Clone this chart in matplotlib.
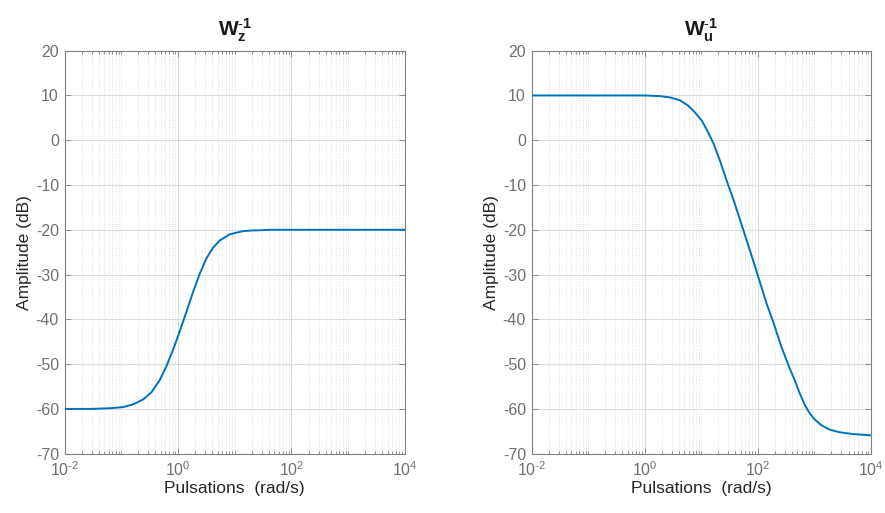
import matplotlib
matplotlib.use("Agg")
import matplotlib.pyplot as plt
import math
from matplotlib.ticker import FixedLocator, LogLocator, NullFormatter, FuncFormatter

plt.rcParams['font.family'] = ['Liberation Sans', 'DejaVu Sans']
plt.rcParams['mathtext.fontset'] = 'custom'
plt.rcParams['mathtext.rm'] = 'Liberation Sans'
plt.rcParams['mathtext.it'] = 'Liberation Sans'
plt.rcParams['mathtext.bf'] = 'Liberation Sans:bold'
plt.rcParams['axes.unicode_minus'] = False

# ---- data ----
wz_freq = [0.01, 0.03, 0.0624, 0.107, 0.161, 0.242, 0.339, 0.475, 0.624, 0.817,
           1.07, 1.41, 1.84, 2.42, 3.16, 4.14, 5.43, 8.17, 14.0, 20.0, 27.6, 41.4, 10000]
wz_db = [-60.0, -60.0, -59.85, -59.6, -59.0, -57.9, -56.3, -53.6, -50.5, -46.8,
         -42.7, -38.3, -33.9, -29.8, -26.4, -24.0, -22.4, -21.0, -20.3, -20.15, -20.1, -20.0, -20.0]

wu_freq = [0.01, 1.0, 1.88, 2.83, 4.23, 5.92, 7.75, 10.2, 13.3, 16.3, 21.3, 27.9,
           36.4, 46.5, 72.4, 100, 142, 186, 260, 364, 446, 545, 668, 817, 1000,
           1310, 1830, 2750, 4710, 10000]
wu_db = [10.0, 10.0, 9.85, 9.55, 8.9, 7.7, 6.2, 4.4, 1.7, -0.6, -4.5, -8.9,
         -13.0, -17.1, -24.6, -30.2, -36.4, -40.5, -46.1, -50.9, -53.5, -56.4, -59.0, -60.9, -62.3,
         -63.6, -64.6, -65.2, -65.6, -65.9]

titles = [r'$\mathbf{W_z^{\text{-}1}}$', r'$\mathbf{W_u^{\text{-}1}}$']
xlabel = 'Pulsations  (rad/s)'
ylabel = 'Amplitude (dB)'
xlim = (1e-2, 1e4)
ylim = (-70, 20)
xmajor = [1e-2, 1e0, 1e2, 1e4]
yticks = list(range(-70, 21, 10))

line_color = '#0072BD'
axis_gray = '#808080'
tick_gray = '#707070'


def pow_fmt(v, pos):
    e = int(round(math.log10(v)))
    s = str(e).replace('-', r'\text{-}')
    return r'$10^{%s}$' % s


fig = plt.figure(figsize=(8.85, 5.13), dpi=100)
axes = [fig.add_axes([0.0729, 0.1156, 0.3847, 0.7856]),
        fig.add_axes([0.6006, 0.1156, 0.3836, 0.7856])]

for ax, f, d, t in zip(axes, [wz_freq, wu_freq], [wz_db, wu_db], titles):
    ax.semilogx(f, d, color=line_color, lw=1.4, zorder=3)
    ax.set_xlim(*xlim)
    ax.set_ylim(*ylim)
    ax.xaxis.set_major_locator(FixedLocator(xmajor))
    ax.xaxis.set_major_formatter(FuncFormatter(pow_fmt))
    ax.xaxis.set_minor_locator(LogLocator(base=10, subs=[1, 2, 3, 4, 5, 6, 7, 8, 9], numticks=50))
    ax.xaxis.set_minor_formatter(NullFormatter())
    ax.set_yticks(yticks)
    ax.grid(True, which='major', color='#dcdcdc', lw=0.8, ls='-')
    ax.grid(True, which='minor', axis='x', color='#d9d9d9', lw=0.6, ls=':')
    ax.set_axisbelow(True)
    for s in ax.spines.values():
        s.set_color(axis_gray)
        s.set_linewidth(0.8)
    ax.tick_params(which='both', direction='in', top=True, right=True,
                   color=axis_gray, labelcolor=tick_gray, labelsize=11.5, width=0.6)
    ax.tick_params(which='major', length=4)
    ax.tick_params(which='minor', length=2)
    ax.tick_params(axis='x', which='major', pad=5)
    ax.tick_params(axis='y', which='major', pad=4)
    ax.set_xlabel(xlabel, fontsize=12.5, color='#262626', labelpad=1)
    ax.set_ylabel(ylabel, fontsize=12.5, color='#262626', labelpad=3)
    ax.set_title(t, fontsize=15, color='#1a1a1a', pad=10)

fig.savefig('out.png', dpi=100)
